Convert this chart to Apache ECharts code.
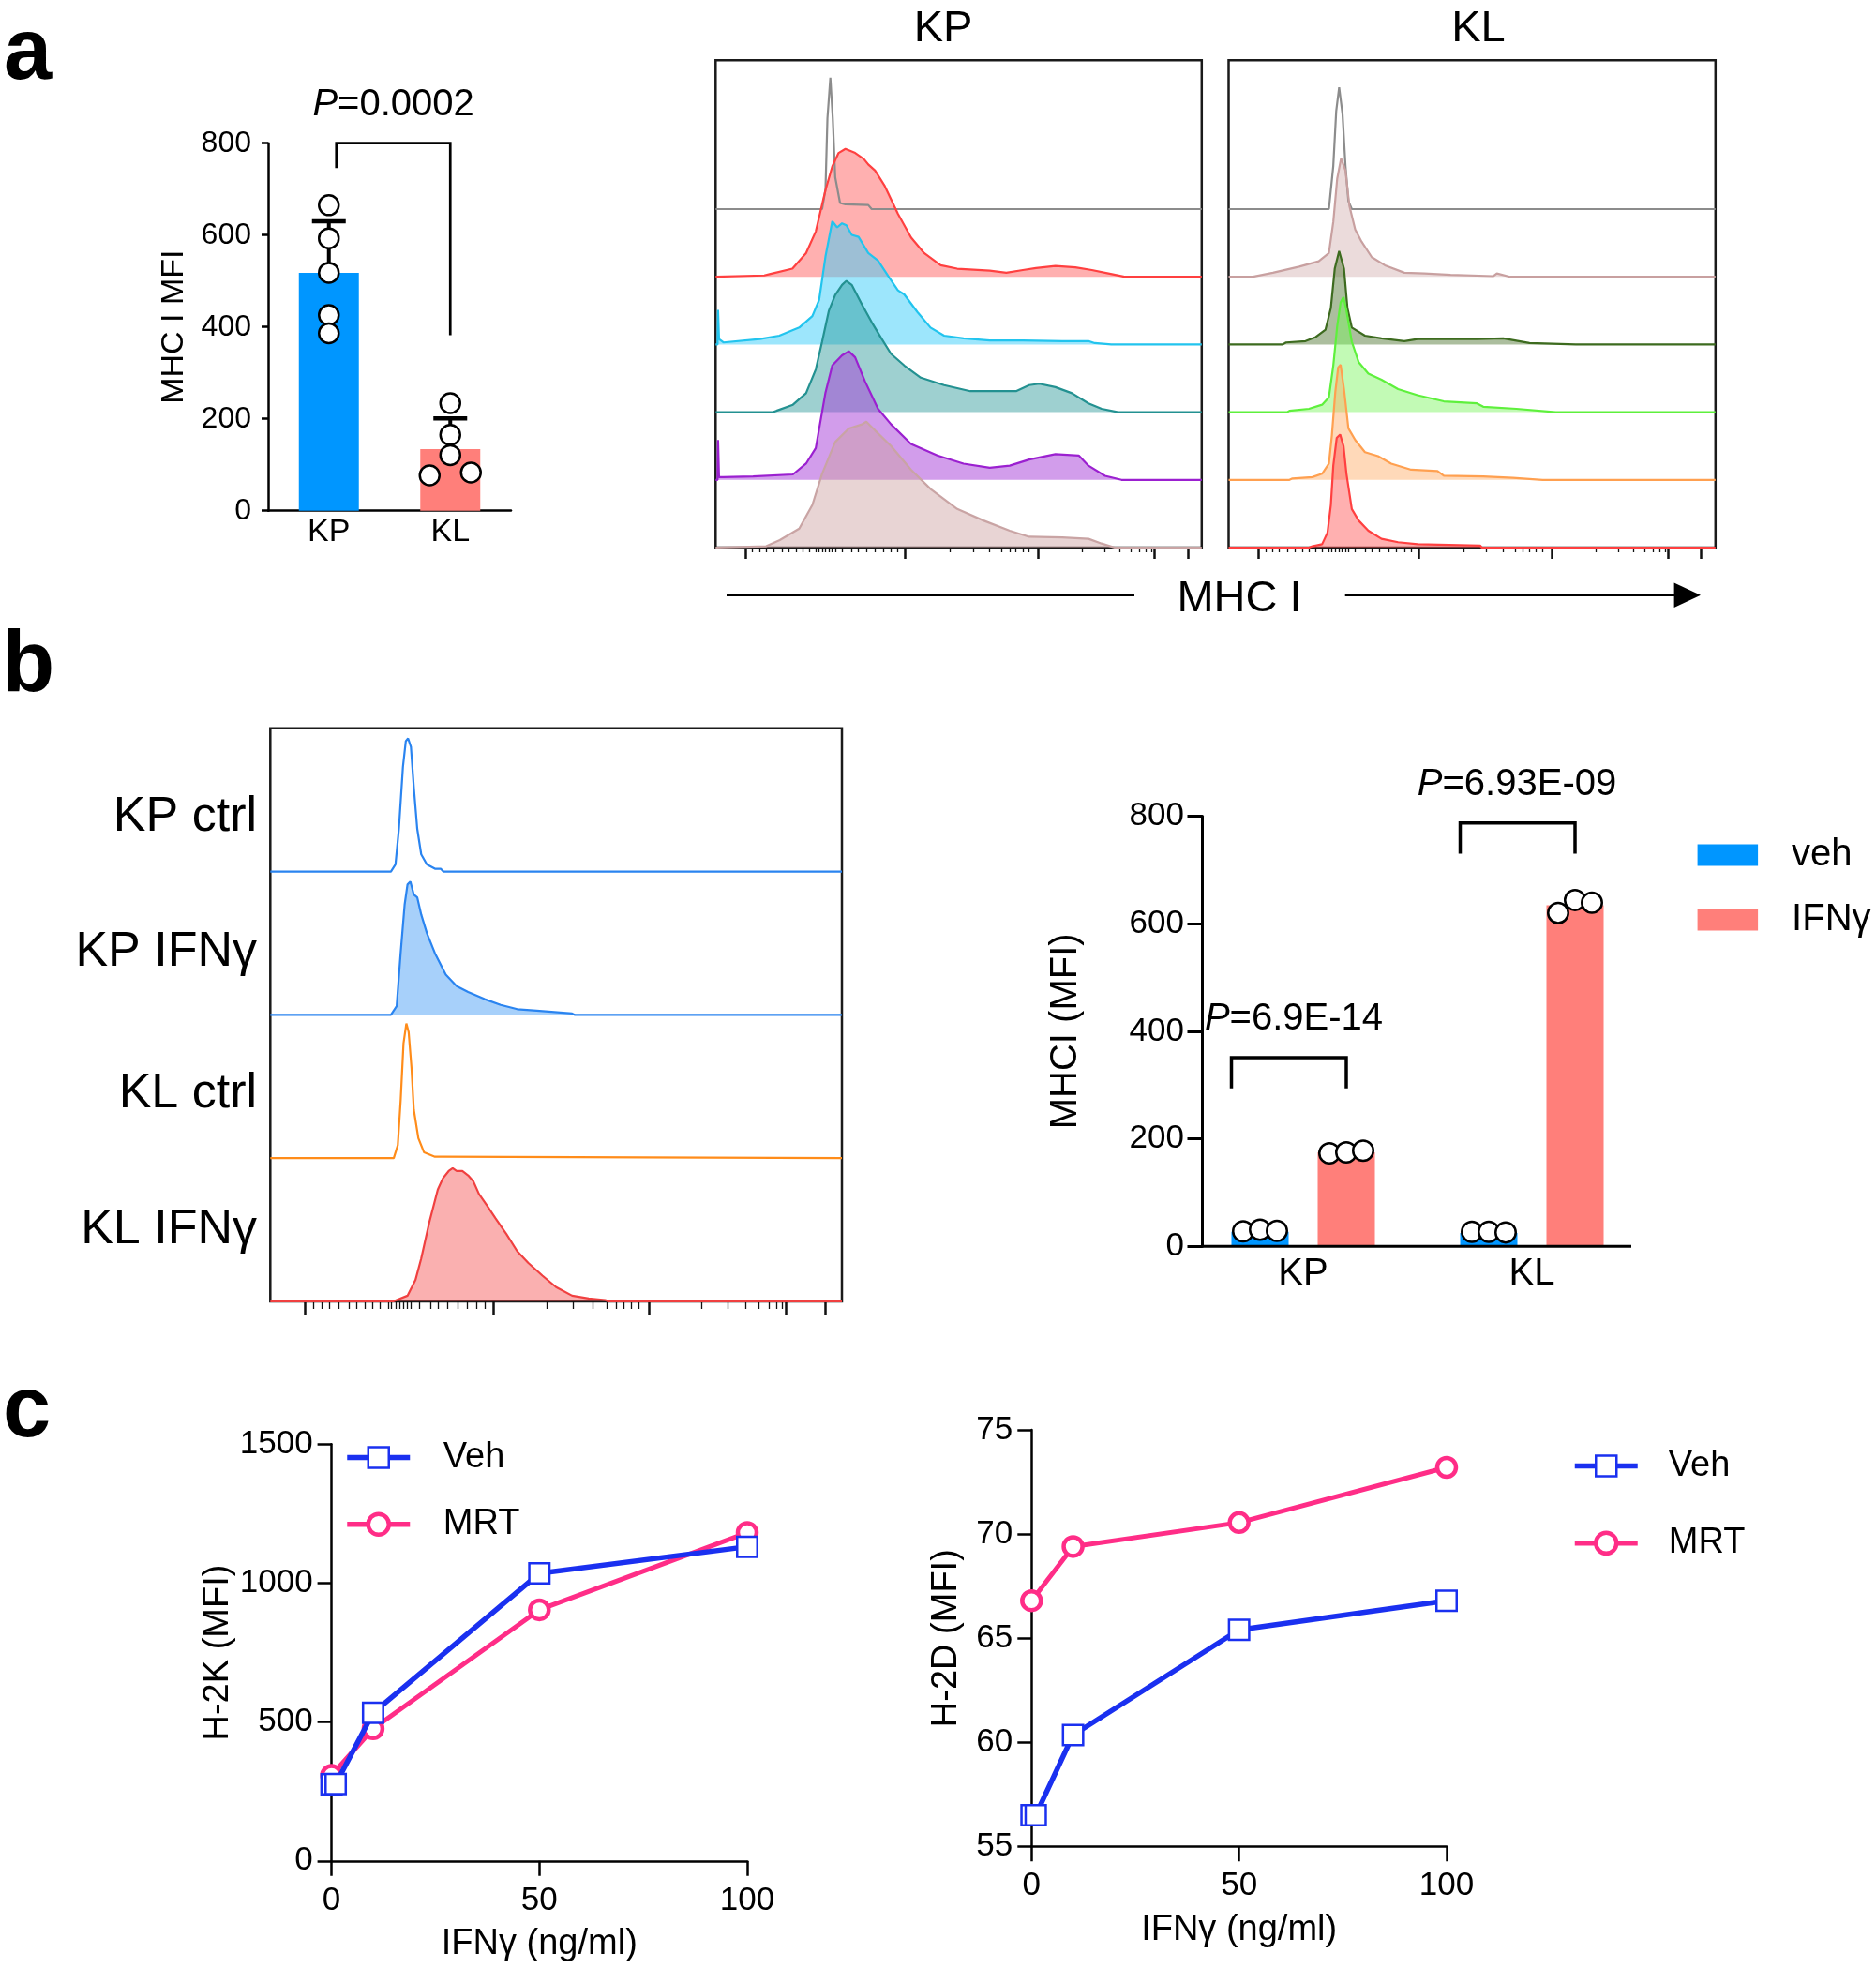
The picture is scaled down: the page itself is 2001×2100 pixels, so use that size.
<!DOCTYPE html>
<html>
<head>
<meta charset="utf-8">
<script src="https://cdn.jsdelivr.net/npm/echarts@6/dist/echarts.min.js"></script>
<style>html,body{margin:0;padding:0;background:#fff}#main{width:2001px;height:2100px}</style>
</head>
<body>
<div id="main"></div>
<script>
// ================= DATA =================
// Panel a - bar chart
const groupsA = ['KP', 'KL'];
const meanA = [518, 134];
const sdTopA = [630, 201];
const dotsKPa = [665, 593, 518, 426, 386];
const dotsKLa = [234, 165, 121, 77, 83];
const bracketA = [800, 746, 382];          // top, left-leg end, right-leg end (MFI)
const pTextA = '0.0002';

// Flow cytometry axis ticks (display channel units 0..1000)
const flowMajorTicks = [61, 390, 663, 902, 971];
const flowMinorTicks = [76, 90, 104, 120, 137, 151, 165, 179, 192, 206, 212, 219, 226, 233, 240, 246,
  260, 280, 294, 310, 328, 345, 361, 375, 483, 530, 564, 588, 605, 618, 632, 645,
  754, 801, 832, 855, 872, 886, 896];

// Panel a - KP histograms  [channel, count]
const kpGrayHist = [[0,0],[219,0],[226,29],[230,134],[236,194],[241,134],[246,47],[256,9],[267,7],[314,6],[321,0],[1000,0]];
const kpRedHist = [[0,0],[100,2],[111,4],[158,12],[186,35],[206,67],[226,128],[240,163],[253,183],[267,189],[287,183],[305,174],[314,166],[328,157],[348,134],[375,93],[402,58],[429,35],[463,17],[497,12],[564,9],[598,6],[632,10],[659,13],[699,16],[740,14],[774,10],[808,5],[841,0],[1000,0]];
const kpCyanHist = [[0,0],[4,0],[5,51],[7,8],[16,3],[91,8],[131,13],[172,25],[199,42],[213,66],[226,130],[240,182],[250,173],[260,179],[269,176],[280,162],[294,159],[314,135],[334,124],[355,101],[375,80],[388,74],[415,48],[442,25],[470,13],[510,9],[564,6],[632,6],[713,5],[767,5],[780,2],[814,0],[1000,0]];
const kpTealHist = [[0,0],[118,0],[125,2],[159,11],[186,28],[206,63],[219,104],[233,150],[246,173],[260,188],[269,194],[280,188],[301,159],[321,133],[341,109],[361,86],[388,69],[422,51],[470,40],[524,31],[618,31],[645,40],[666,42],[699,37],[733,28],[767,13],[794,5],[828,0],[1000,0]];
const kpPurpleHist = [[0,0],[4,0],[5,59],[7,4],[16,4],[77,5],[159,8],[186,24],[206,47],[226,129],[240,169],[260,184],[274,190],[287,181],[307,146],[334,105],[361,82],[402,53],[456,36],[510,24],[564,18],[605,21],[645,30],[699,38],[747,36],[767,21],[801,6],[835,0],[1000,0]];
const kpRosyHist = [[0,0],[104,2],[132,11],[172,28],[199,63],[219,109],[246,156],[274,176],[301,182],[310,186],[328,173],[361,150],[402,115],[443,86],[497,57],[551,40],[605,25],[645,16],[713,15],[767,13],[794,6],[821,0],[1000,0]];

// Panel a - KL histograms
const klGrayHist = [[0,0],[206,0],[215,64],[221,145],[227,180],[234,140],[240,64],[246,12],[253,0],[1000,0]];
const klRosyHist = [[0,0],[50,0],[91,6],[145,15],[185,23],[206,35],[215,81],[223,145],[231,175],[240,157],[248,105],[260,70],[273,52],[294,29],[321,17],[361,6],[402,5],[456,3],[544,1],[551,5],[578,0],[1000,0]];
const klDarkGreenHist = [[0,0],[111,0],[118,3],[158,5],[179,11],[199,22],[210,54],[218,112],[227,138],[237,112],[244,54],[253,25],[280,13],[314,9],[361,5],[388,8],[442,8],[510,8],[564,9],[618,2],[713,0],[1000,0]];
const klLightGreenHist = [[0,0],[120,0],[125,2],[165,5],[192,11],[206,22],[215,69],[223,127],[230,162],[236,170],[242,150],[253,104],[267,74],[287,57],[314,48],[348,34],[388,25],[442,16],[510,13],[523,8],[591,5],[672,0],[1000,0]];
const klOrangeHist = [[0,0],[125,0],[131,2],[172,4],[192,9],[206,24],[212,65],[219,129],[225,166],[230,170],[237,134],[246,76],[260,59],[280,41],[307,35],[334,24],[375,15],[429,13],[442,6],[523,5],[584,3],[645,0],[1000,0]];
const klRedHist = [[0,0],[165,0],[172,2],[192,5],[203,22],[210,63],[215,121],[222,162],[229,167],[236,150],[242,109],[253,57],[267,40],[287,25],[314,13],[348,8],[388,5],[517,3],[520,0],[1000,0]];

// Panel b - histograms
const rowLabelsB = ['KP ctrl', 'KP IFNγ', 'KL ctrl', 'KL IFNγ'];
const bKpCtrlHist = [[0,0],[211,0],[219,5],[225,30],[232,73],[237,91],[241,93],[246,87],[251,59],[257,30],[264,12],[274,5],[288,2],[298,2],[303,0],[1000,0]];
const bKpIfnHist = [[0,0],[211,0],[221,6],[228,43],[235,77],[240,91],[245,93],[251,84],[257,82],[264,70],[274,57],[288,43],[307,28],[326,20],[346,16],[375,11],[403,7],[432,4],[466,3],[528,1],[533,0],[1000,0]];
const bKlCtrlHist = [[0,0],[216,0],[223,9],[228,40],[233,80],[238,94],[242,88],[247,63],[251,34],[259,14],[269,4],[288,1],[302,1],[305,0],[1000,0]];
const bKlIfnHist = [[0,0],[215,0],[221,1],[240,4],[254,15],[264,30],[278,55],[293,78],[302,86],[312,91],[319,93],[326,91],[336,91],[346,88],[355,84],[365,75],[379,67],[394,58],[413,47],[432,35],[451,27],[476,18],[500,10],[528,4],[557,2],[586,1],[591,0],[1000,0]];

// Panel b - bar chart
const groupsB = ['KP', 'KL'];
const vehMeanB = [27, 25];
const ifnMeanB = [175, 634];
const vehDotsB = [[28, 31, 29], [27, 27, 26]];
const ifnDotsB = [[173, 175, 178], [620, 644, 639]];
const bracketTopB = [351, 787];
const bracketLegB = [294, 730];
const pTextB = ['6.9E-14', '6.93E-09'];

// Panel c - dose response
const doseVehC = [0, 1, 10, 50, 100];
const doseMrtC = [0, 10, 50, 100];
const h2kVeh = [276, 277, 533, 1035, 1131];
const h2kMrt = [308, 476, 904, 1182];
const h2dVeh = [56.5, 56.5, 60.35, 65.4, 66.8];
const h2dMrt = [66.8, 69.4, 70.55, 73.2];

// ================= STYLE / LAYOUT =================
const FONT = "'Liberation Sans', Arial, Helvetica, sans-serif";
const BLACK = '#000';
const BLUE_BAR = '#0096ff', RED_BAR = '#ff7f7a';
const BLUE_LINE = '#1a30f0', PINK_LINE = '#ff2d87';
const L = {
  aBar: {left: 286, top: 152.7, width: 259, height: 392},
  kpBox: {left: 763.3, top: 64.3, width: 518.5, height: 519.7},
  klBox: {left: 1310.5, top: 64.3, width: 519.3, height: 519.7},
  aRow0: 223, aRowStep: 72.2, aPx: 0.722,
  bBox: {left: 288.3, top: 776.8, width: 609.7, height: 611.2},
  bRowH: 152.8,
  bBar: {left: 1268, top: 870.4, width: 488, height: 458.9},
  bAxisShift: 14.5, bAxisEnd: 1740,
  c1: {left: 353.6, top: 1540.3, width: 443.4, height: 444.5},
  c2: {left: 1100.3, top: 1525, width: 442.7, height: 444.3}
};
const kpStyles = [
  {line: '#8c8c8c', fill: null},
  {line: '#ff4040', fill: 'rgba(255,80,80,0.45)'},
  {line: '#22c4ee', fill: 'rgba(60,205,250,0.5)'},
  {line: '#239191', fill: 'rgba(40,150,150,0.45)'},
  {line: '#9b20d0', fill: 'rgba(165,60,215,0.5)'},
  {line: '#c9a4a4', fill: 'rgba(205,160,160,0.45)'}
];
const klStyles = [
  {line: '#8c8c8c', fill: null},
  {line: '#c8a0a0', fill: 'rgba(205,165,165,0.4)'},
  {line: '#3d6b1f', fill: 'rgba(70,110,40,0.45)'},
  {line: '#5ef03c', fill: 'rgba(120,245,90,0.45)'},
  {line: '#ffa050', fill: 'rgba(255,170,100,0.45)'},
  {line: '#ff4040', fill: 'rgba(255,80,80,0.45)'}
];
const bStyles = [
  {line: '#2a84f0', fill: null},
  {line: '#2a84f0', fill: 'rgba(60,150,245,0.45)'},
  {line: '#ff8c1a', fill: null},
  {line: '#f04040', fill: 'rgba(245,80,80,0.45)'}
];

// ================= BUILD =================
const chart = echarts.init(document.getElementById('main'), null, {width: 2001, height: 2100});
const grid = [], xAxis = [], yAxis = [], series = [], legend = [];
function G(o) { grid.push(Object.assign({containLabel: false, outerBoundsMode: 'none'}, o)); return grid.length - 1; }
function X(o) { xAxis.push(o); return xAxis.length - 1; }
function Y(o) { yAxis.push(o); return yAxis.length - 1; }
const lineS = w => ({show: true, onZero: false, lineStyle: {color: BLACK, width: w}});
const tickS = (len, w) => ({show: true, length: len, lineStyle: {color: BLACK, width: w}});
const lbl = (fs, m) => ({show: true, color: BLACK, fontSize: fs, fontFamily: FONT, margin: m, formatter: v => String(v)});
const nameS = fs => ({color: BLACK, fontSize: fs, fontFamily: FONT});

// ---- Panel a bar chart ----
const gA = G(L.aBar);
const xA = X({gridIndex: gA, type: 'category', data: groupsA, axisLine: lineS(2.5), axisTick: {show: false},
  axisLabel: lbl(34, 6), splitLine: {show: false}});
const yA = Y({gridIndex: gA, type: 'value', min: 0, max: 800, interval: 200, axisLine: lineS(2.5),
  axisTick: tickS(7, 2.5), axisLabel: lbl(32, 18), splitLine: {show: false},
  name: 'MHC I MFI', nameLocation: 'middle', nameGap: 83, nameTextStyle: nameS(34)});
series.push({type: 'bar', xAxisIndex: xA, yAxisIndex: yA, barWidth: 64, silent: true, z: 2,
  data: meanA.map((v, i) => ({value: v, itemStyle: {color: i === 0 ? BLUE_BAR : RED_BAR}}))});
series.push({type: 'custom', xAxisIndex: xA, yAxisIndex: yA, silent: true, z: 3,
  encode: {x: 0, y: [1, 2]},
  data: meanA.map((m, i) => [i, m, sdTopA[i]]),
  renderItem: (p, api) => {
    const b = api.coord([api.value(0), api.value(1)]);
    const t = api.coord([api.value(0), api.value(2)]);
    return {type: 'group', children: [
      {type: 'line', shape: {x1: b[0], y1: b[1], x2: t[0], y2: t[1]}, style: {stroke: BLACK, lineWidth: 4}},
      {type: 'line', shape: {x1: t[0] - 18, y1: t[1], x2: t[0] + 18, y2: t[1]}, style: {stroke: BLACK, lineWidth: 4.5}}
    ]};
  }});
const jitterKLa = [0, 0, 0, -22, 22];
series.push({type: 'scatter', xAxisIndex: xA, yAxisIndex: yA, symbol: 'circle', symbolSize: 21, silent: true, z: 4,
  itemStyle: {color: '#fff', borderColor: BLACK, borderWidth: 2.5, opacity: 1},
  data: dotsKPa.map(v => ({value: [0, v]})).concat(dotsKLa.map((v, i) => ({value: [1, v], symbolOffset: [jitterKLa[i], 0]})))});

// ---- Flow histogram boxes ----
function flowBox(box, majorLen, minorLen) {
  const g = G(Object.assign({show: true, borderColor: '#1a1a1a', borderWidth: 2.5, backgroundColor: 'rgba(0,0,0,0)'}, box));
  const common = {gridIndex: g, type: 'value', min: 0, max: 1000, position: 'bottom',
    axisLine: {show: false}, axisLabel: {show: false}, splitLine: {show: false}};
  X(Object.assign({}, common, {axisTick: {show: true, customValues: flowMajorTicks, length: majorLen, lineStyle: {color: '#111', width: 2.5}}}));
  X(Object.assign({}, common, {axisTick: {show: true, customValues: flowMinorTicks, length: minorLen, lineStyle: {color: '#111', width: 1.3}}}));
  Y({gridIndex: g, type: 'value', min: 0, max: 1, show: false});
}
function histRow(left, width, top, height, pxPerUnit, pts, st) {
  const g = G({left, top, width, height});
  const x = X({gridIndex: g, type: 'value', min: 0, max: 1000, show: false});
  const y = Y({gridIndex: g, type: 'value', min: 0, max: height / pxPerUnit, show: false});
  const s = {type: 'line', xAxisIndex: x, yAxisIndex: y, data: pts, symbol: 'none', showSymbol: false,
    clip: false, silent: true, z: 2, lineStyle: {color: st.line, width: 2.2}};
  if (st.fill) s.areaStyle = {color: st.fill, opacity: 1};
  series.push(s);
}
flowBox(L.kpBox, 12, 5);
[kpGrayHist, kpRedHist, kpCyanHist, kpTealHist, kpPurpleHist, kpRosyHist].forEach((h, i) => {
  const base = L.aRow0 + i * L.aRowStep;
  histRow(L.kpBox.left, L.kpBox.width, L.kpBox.top, base - L.kpBox.top, L.aPx, h, kpStyles[i]);
});
flowBox(L.klBox, 12, 5);
[klGrayHist, klRosyHist, klDarkGreenHist, klLightGreenHist, klOrangeHist, klRedHist].forEach((h, i) => {
  const base = L.aRow0 + i * L.aRowStep;
  histRow(L.klBox.left, L.klBox.width, L.klBox.top, base - L.klBox.top, L.aPx, h, klStyles[i]);
});
flowBox(L.bBox, 15, 8);
[bKpCtrlHist, bKpIfnHist, bKlCtrlHist, bKlIfnHist].forEach((h, i) => {
  histRow(L.bBox.left, L.bBox.width, L.bBox.top + i * L.bRowH, L.bRowH, L.bRowH / 100, h, bStyles[i]);
});

// ---- Panel b bar chart ----
const gB = G(L.bBar);
const xB = X({gridIndex: gB, type: 'category', data: groupsB, axisLine: {show: false}, axisTick: {show: false},
  axisLabel: lbl(40, 10), splitLine: {show: false}});
const yB = Y({gridIndex: gB, type: 'value', min: 0, max: 800, interval: 200, offset: -L.bAxisShift,
  axisLine: lineS(3), axisTick: tickS(16, 3), axisLabel: lbl(35, 19.5), splitLine: {show: false},
  name: 'MHCI (MFI)', nameLocation: 'middle', nameGap: 126, nameTextStyle: nameS(40)});
const BW = 61, BGAP = 31, BOFF = (BW + BGAP) / 2;
series.push({type: 'bar', name: 'veh', xAxisIndex: xB, yAxisIndex: yB, barWidth: BW, barGap: (BGAP / BW * 100) + '%',
  data: vehMeanB, itemStyle: {color: BLUE_BAR}, silent: true, z: 2});
series.push({type: 'bar', name: 'IFNγ', xAxisIndex: xB, yAxisIndex: yB, barWidth: BW, barGap: (BGAP / BW * 100) + '%',
  data: ifnMeanB, itemStyle: {color: RED_BAR}, silent: true, z: 2});
const jitB = [-18, 0, 18];
function dotsB(groups, off) {
  const out = [];
  groups.forEach((vals, gi) => vals.forEach((v, k) => out.push({value: [gi, v], symbolOffset: [off + jitB[k], 0]})));
  return out;
}
series.push({type: 'scatter', xAxisIndex: xB, yAxisIndex: yB, symbol: 'circle', symbolSize: 21.5, silent: true, z: 4,
  itemStyle: {color: '#fff', borderColor: BLACK, borderWidth: 2.5, opacity: 1},
  data: dotsB(vehDotsB, -BOFF).concat(dotsB(ifnDotsB, BOFF))});
['veh', 'IFNγ'].forEach((n, i) => legend.push({data: [n], left: 1810.6, top: [892, 961][i], padding: 0, icon: 'rect',
  itemWidth: 64.5, itemHeight: 23, selectedMode: false,
  textStyle: {color: BLACK, fontSize: 40, fontFamily: FONT, lineHeight: 40, padding: [0, 0, 0, 31]}}));

// ---- Panel c ----
function doseChart(box, yMin, yMax, yInt, yName, yGap, veh, mrt, legLeft, legTops, legPad) {
  const g = G(box);
  const x = X({gridIndex: g, type: 'value', min: 0, max: 100, interval: 50, axisLine: lineS(2.5), axisTick: tickS(16, 2.5),
    axisLabel: lbl(35, 25), splitLine: {show: false},
    name: 'IFNγ (ng/ml)', nameLocation: 'middle', nameGap: 70, nameTextStyle: nameS(38)});
  const y = Y({gridIndex: g, type: 'value', min: yMin, max: yMax, interval: yInt, axisLine: lineS(2.5), axisTick: tickS(15, 2.5),
    axisLabel: lbl(35, 20), splitLine: {show: false},
    name: yName, nameLocation: 'middle', nameGap: yGap, nameTextStyle: nameS(38)});
  series.push({type: 'line', name: 'MRT', xAxisIndex: x, yAxisIndex: y, data: doseMrtC.map((d, i) => [d, mrt[i]]),
    symbol: 'circle', symbolSize: 20, showSymbol: true, silent: true, z: 3,
    lineStyle: {color: PINK_LINE, width: 5}, itemStyle: {color: '#fff', borderColor: PINK_LINE, borderWidth: 4.5}});
  series.push({type: 'line', name: 'Veh', xAxisIndex: x, yAxisIndex: y, data: doseVehC.map((d, i) => [d, veh[i]]),
    symbol: 'rect', symbolSize: 21.5, showSymbol: true, silent: true, z: 4,
    lineStyle: {color: BLUE_LINE, width: 5.5}, itemStyle: {color: '#fff', borderColor: BLUE_LINE, borderWidth: 2.5}});
  const legCol = {Veh: BLUE_LINE, MRT: PINK_LINE}, legBW = {Veh: 2.5, MRT: 4.5};
  ['Veh', 'MRT'].forEach((n, i) => legend.push({data: [n], left: legLeft, top: legTops[i] - 20, padding: 0,
    itemWidth: 67, itemHeight: 27.5, selectedMode: false,
    lineStyle: {color: legCol[n], width: 5.5},
    itemStyle: {color: '#fff', borderColor: legCol[n], borderWidth: legBW[n]},
    textStyle: {color: BLACK, fontSize: 38, fontFamily: FONT, lineHeight: 40, padding: [0, 0, 0, legPad]}}));
}
doseChart(L.c1, 0, 1500, 500, 'H-2K (MFI)', 99, h2kVeh, h2kMrt, 367.5, [1554.6, 1625.7], 30.5);
doseChart(L.c2, 55, 75, 5, 'H-2D (MFI)', 72, h2dVeh, h2dMrt, 1677, [1563.4, 1645.8], 28);

chart.setOption({
  backgroundColor: '#fff',
  animation: false,
  textStyle: {fontFamily: FONT},
  grid, xAxis, yAxis, series, legend
});

// ================= ANNOTATIONS =================
const pA = (c, v) => chart.convertToPixel({xAxisIndex: xA, yAxisIndex: yA}, [c, v]);
const pB = (c, v) => chart.convertToPixel({xAxisIndex: xB, yAxisIndex: yB}, [c, v]);
const DY = 4; // vertical nudge for middle-aligned text
const txt = (text, x, y, fs, align) => ({type: 'text', z: 100, silent: true,
  style: {text, x, y: y + DY, fill: BLACK, fontSize: fs, fontFamily: FONT, align: align || 'center', verticalAlign: 'middle',
    textAlign: align || 'center', textVerticalAlign: 'middle'}});
const pTxt = (val, x, y, fs) => ({type: 'text', z: 100, silent: true,
  style: {text: '{p|P}=' + val, x, y: y + DY, fill: BLACK, fontSize: fs, fontFamily: FONT, align: 'center', verticalAlign: 'middle',
    textAlign: 'center', textVerticalAlign: 'middle',
    rich: {p: {fontStyle: 'italic', fontSize: fs, fontFamily: FONT, fill: BLACK}}}});
const seg = (x1, y1, x2, y2, w) => ({type: 'line', z: 100, silent: true, shape: {x1, y1, x2, y2}, style: {stroke: BLACK, lineWidth: w}});
const letter = (t, x, y) => ({type: 'text', z: 100, silent: true,
  style: {text: t, x, y, fill: BLACK, font: 'bold 92px ' + FONT, verticalAlign: 'middle', textVerticalAlign: 'middle'}});

const els = [];
els.push(letter('a', 4, 59));
els.push(letter('b', 2, 712));
els.push(letter('c', 3, 1507));

// panel a bracket
{
  const l0 = pA(0, bracketA[1]), lt = pA(0, bracketA[0]), rt = pA(1, bracketA[0]), r0 = pA(1, bracketA[2]);
  const lx = l0[0] + 8;
  els.push({type: 'polyline', z: 100, silent: true, shape: {points: [[lx, l0[1]], [lx, lt[1]], [rt[0], rt[1]], [rt[0], r0[1]]]},
    style: {stroke: BLACK, lineWidth: 2.7, fill: null}});
  els.push(pTxt(pTextA, 419.6, 108, 40));
}
// histogram titles & axis arrow
els.push(txt('KP', 1006, 27.4, 47));
els.push(txt('KL', 1577, 27.4, 47));
els.push(txt('MHC I', 1322, 635.4, 47));
els.push(seg(775, 634.7, 1210, 634.7, 2.5));
els.push(seg(1434.7, 634.7, 1790, 634.7, 2.5));
els.push({type: 'polygon', z: 100, silent: true, shape: {points: [[1785.6, 621.5], [1814, 634.7], [1785.6, 648]]}, style: {fill: BLACK}});

// panel b row labels
[868, 1012, 1163, 1308].forEach((y, i) => els.push(txt(rowLabelsB[i], 274, y, 52, 'right')));

// panel b bar: x axis line, brackets, p values
{
  const z0 = pB(0, 0);
  els.push(seg(L.bBar.left + L.bAxisShift - 1.5, z0[1], L.bAxisEnd, z0[1], 3));
  const pPos = [[1380, 1082.5], [1618, 833.3]];
  [0, 1].forEach(gi => {
    const t = pB(gi, bracketTopB[gi]), b = pB(gi, bracketLegB[gi]);
    const xl = t[0] - BOFF - BW / 2, xr = t[0] + BOFF;
    els.push({type: 'polyline', z: 100, silent: true, shape: {points: [[xl, b[1]], [xl, t[1]], [xr, t[1]], [xr, b[1]]]},
      style: {stroke: BLACK, lineWidth: 3.5, fill: null}});
    els.push(pTxt(pTextB[gi], pPos[gi][0], pPos[gi][1], 40));
  });
}
chart.setOption({graphic: {elements: els}});
</script>
</body>
</html>
